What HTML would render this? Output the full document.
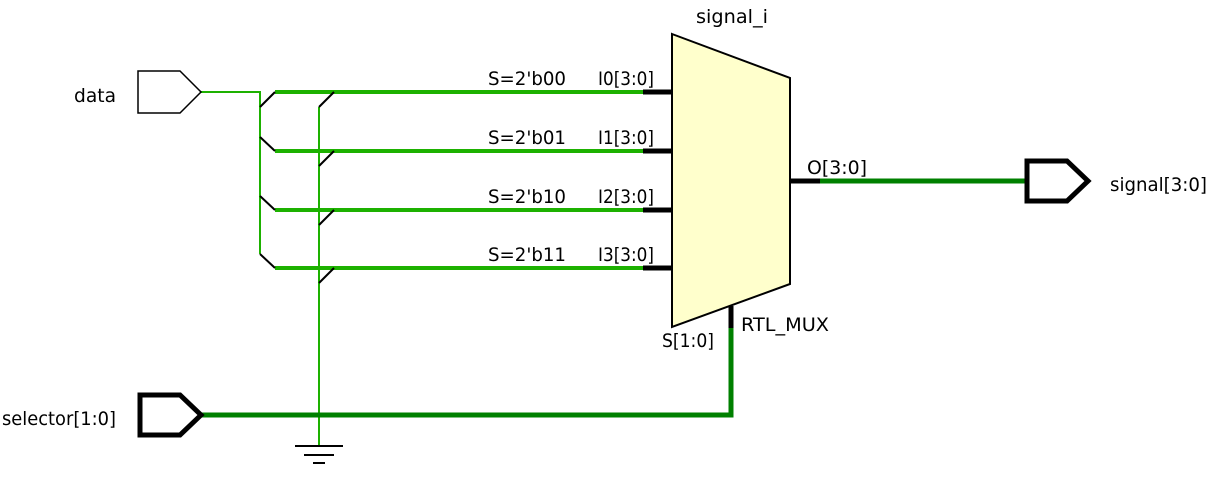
<!DOCTYPE html>
<html><head><meta charset="utf-8"><style>
html,body{margin:0;padding:0;background:#fff;}
svg{display:block;}
</style></head><body>
<svg width="1213" height="483" viewBox="0 0 1213 483" xmlns="http://www.w3.org/2000/svg">
<polygon points="672,34 790,78 790,284 672,327" fill="#ffffcc" stroke="#000" stroke-width="2"/>
<g stroke="#000" stroke-width="5">
<line x1="643" y1="92" x2="672" y2="92"/>
<line x1="643" y1="151" x2="672" y2="151"/>
<line x1="643" y1="210" x2="672" y2="210"/>
<line x1="643" y1="268" x2="672" y2="268"/>
<line x1="790" y1="181" x2="820" y2="181"/>
<line x1="731" y1="306" x2="731" y2="328"/>
</g>
<g stroke="#1db100" stroke-width="4">
<line x1="275" y1="92" x2="643" y2="92"/>
<line x1="275" y1="151" x2="643" y2="151"/>
<line x1="275" y1="210" x2="643" y2="210"/>
<line x1="275" y1="268" x2="643" y2="268"/>
</g>
<g stroke="#1db100" stroke-width="2" fill="none">
<polyline points="201,92 260,92 260,254"/>
<line x1="319" y1="107" x2="319" y2="446"/>
</g>
<g stroke="#000" stroke-width="2">
<line x1="260" y1="107" x2="275" y2="92"/>
<line x1="260" y1="137" x2="275" y2="151"/>
<line x1="260" y1="196" x2="275" y2="210"/>
<line x1="260" y1="254" x2="275" y2="268"/>
<line x1="319" y1="107" x2="334" y2="92"/>
<line x1="319" y1="166" x2="334" y2="151"/>
<line x1="319" y1="225" x2="334" y2="210"/>
<line x1="319" y1="283" x2="334" y2="268"/>
<line x1="295" y1="446" x2="343" y2="446"/>
<line x1="304" y1="455" x2="334" y2="455"/>
<line x1="313" y1="463" x2="325" y2="463"/>
</g>
<g stroke="#008000" stroke-width="5" fill="none">
<line x1="820" y1="181" x2="1025" y2="181"/>
<polyline points="201,415 731,415 731,328"/>
</g>
<polygon points="138,71 180,71 201,92 180,113 138,113" fill="#fff" stroke="#000" stroke-width="1.5"/>
<polygon points="140,395 180,395 201,415 180,435 140,435" fill="#fff" stroke="#000" stroke-width="5"/>
<polygon points="1027,161 1067,161 1088,181 1067,201 1027,201" fill="#fff" stroke="#000" stroke-width="5"/>
<g font-family="DejaVu Sans, Liberation Sans, sans-serif" font-size="19" fill="#000" style="font-size:19px">
<text x="74" y="102" textLength="42" lengthAdjust="spacingAndGlyphs">data</text>
<text x="2" y="425" textLength="114" lengthAdjust="spacingAndGlyphs">selector[1:0]</text>
<text x="1110" y="191" textLength="97" lengthAdjust="spacingAndGlyphs">signal[3:0]</text>
<text x="696" y="23" textLength="72" lengthAdjust="spacingAndGlyphs">signal_i</text>
<text x="488" y="85" textLength="78" lengthAdjust="spacingAndGlyphs">S=2'b00</text>
<text x="488" y="144" textLength="78" lengthAdjust="spacingAndGlyphs">S=2'b01</text>
<text x="488" y="203" textLength="78" lengthAdjust="spacingAndGlyphs">S=2'b10</text>
<text x="488" y="261" textLength="78" lengthAdjust="spacingAndGlyphs">S=2'b11</text>
<text x="598" y="85" textLength="56" lengthAdjust="spacingAndGlyphs">I0[3:0]</text>
<text x="598" y="144" textLength="56" lengthAdjust="spacingAndGlyphs">I1[3:0]</text>
<text x="598" y="203" textLength="56" lengthAdjust="spacingAndGlyphs">I2[3:0]</text>
<text x="598" y="261" textLength="56" lengthAdjust="spacingAndGlyphs">I3[3:0]</text>
<text x="807" y="174" textLength="60" lengthAdjust="spacingAndGlyphs">O[3:0]</text>
<text x="741" y="331" textLength="88" lengthAdjust="spacingAndGlyphs">RTL_MUX</text>
<text x="662" y="347" textLength="52" lengthAdjust="spacingAndGlyphs">S[1:0]</text>
</g>
</svg>
</body></html>
